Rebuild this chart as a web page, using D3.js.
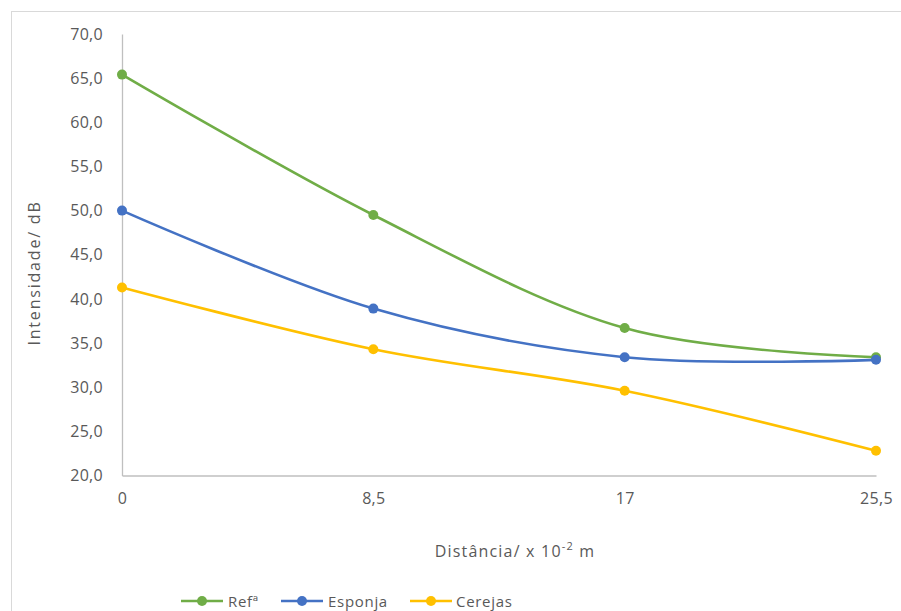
<!DOCTYPE html>
<html>
<head>
<meta charset="utf-8">
<script src="https://cdn.jsdelivr.net/npm/d3@7"></script>
<style>
  html, body { margin: 0; padding: 0; background: #fff; }
  svg { display: block; font-family: "Open Sans", "Noto Sans", sans-serif; }
</style>
</head>
<body>
<svg id="chart" width="901" height="611"></svg>
<script>
// Distance categories (x 10^-2 m)
const categories = ["0", "8,5", "17", "25,5"];

// Sound intensity (dB) per series
const refValues     = [65.4, 49.5, 36.7, 33.4];
const esponjaValues = [50.0, 38.9, 33.4, 33.1];
const cerejasValues = [41.3, 34.3, 29.6, 22.8];

const seriesNames  = ["Refª", "Esponja", "Cerejas"];
const seriesColors = ["#70ad47", "#4472c4", "#ffc000"];

// Y-axis tick values
const yTicks = [20, 25, 30, 35, 40, 45, 50, 55, 60, 65, 70];

const series = [
  { name: seriesNames[0], color: seriesColors[0], values: refValues },
  { name: seriesNames[1], color: seriesColors[1], values: esponjaValues },
  { name: seriesNames[2], color: seriesColors[2], values: cerejasValues }
];

const svg = d3.select("#chart");
const textColor = "#595959";
const axisColor = "#bfbfbf";

// Chart area frame
svg.append("rect")
  .attr("x", 11.5).attr("y", 11.5)
  .attr("width", 901).attr("height", 611)
  .attr("fill", "#fff")
  .attr("stroke", "#d9d9d9");

const plot = { left: 122, right: 876, top: 34, bottom: 475.5 };

const x = d3.scalePoint()
  .domain(categories)
  .range([plot.left, plot.right]);

const y = d3.scaleLinear()
  .domain([20, 70])
  .range([plot.bottom, plot.top]);

// Y axis
const yAxis = svg.append("g")
  .attr("transform", `translate(${plot.left},0)`)
  .call(d3.axisLeft(y)
    .tickValues(yTicks)
    .tickSize(0)
    .tickPadding(19)
    .tickFormat(d => d3.format(".1f")(d).replace(".", ",")));
yAxis.select(".domain").attr("stroke", axisColor).attr("stroke-width", 1.3);
yAxis.selectAll("text")
  .attr("fill", textColor)
  .attr("font-size", 16)
  .attr("letter-spacing", 0.3)
  .attr("font-family", "Open Sans, Noto Sans, sans-serif");

// X axis
const xAxis = svg.append("g")
  .attr("transform", `translate(0,${plot.bottom})`)
  .call(d3.axisBottom(x).tickSize(0).tickPadding(17));
xAxis.select(".domain").attr("stroke", axisColor).attr("stroke-width", 1.3);
xAxis.selectAll("text")
  .attr("fill", textColor)
  .attr("font-size", 16)
  .attr("letter-spacing", 0.3)
  .attr("font-family", "Open Sans, Noto Sans, sans-serif");

// Axis titles
svg.append("text")
  .attr("transform", "translate(40,273) rotate(-90)")
  .attr("text-anchor", "middle")
  .attr("fill", textColor)
  .attr("font-size", 16)
  .attr("letter-spacing", 1.8)
  .text("Intensidade/ dB");

const xTitle = svg.append("text")
  .attr("x", 515).attr("y", 557)
  .attr("text-anchor", "middle")
  .attr("fill", textColor)
  .attr("font-size", 16)
  .attr("letter-spacing", 1.2);
xTitle.append("tspan").text("Distância/ x 10");
xTitle.append("tspan").attr("font-size", 11).attr("dy", -7).text("-2");
xTitle.append("tspan").attr("dy", 7).text(" m");

// Smoothed series lines
const line = d3.line()
  .x((d, i) => x(categories[i]))
  .y(d => y(d))
  .curve(d3.curveCardinal.tension(0));

const lines = svg.append("g");
series.forEach(s => {
  lines.append("path")
    .datum(s.values)
    .attr("d", line)
    .attr("fill", "none")
    .attr("stroke", s.color)
    .attr("stroke-width", 2.6)
    .attr("stroke-linecap", "round");
});
series.forEach(s => {
  lines.selectAll(null)
    .data(s.values)
    .join("circle")
    .attr("cx", (d, i) => x(categories[i]))
    .attr("cy", d => y(d))
    .attr("r", 5)
    .attr("fill", s.color);
});

// Legend
const legendItems = [
  { x0: 181, tx: 228 },
  { x0: 281, tx: 328 },
  { x0: 410, tx: 456 }
];
const legend = svg.append("g");
series.forEach((s, i) => {
  const it = legendItems[i];
  legend.append("line")
    .attr("x1", it.x0).attr("x2", it.x0 + 42)
    .attr("y1", 601).attr("y2", 601)
    .attr("stroke", s.color).attr("stroke-width", 2.6);
  legend.append("circle")
    .attr("cx", it.x0 + 21).attr("cy", 601).attr("r", 5)
    .attr("fill", s.color);
  legend.append("text")
    .attr("x", it.tx).attr("y", 607)
    .attr("fill", textColor)
    .attr("font-size", 15)
    .attr("letter-spacing", 0.7)
    .text(s.name);
});
</script>
</body>
</html>
